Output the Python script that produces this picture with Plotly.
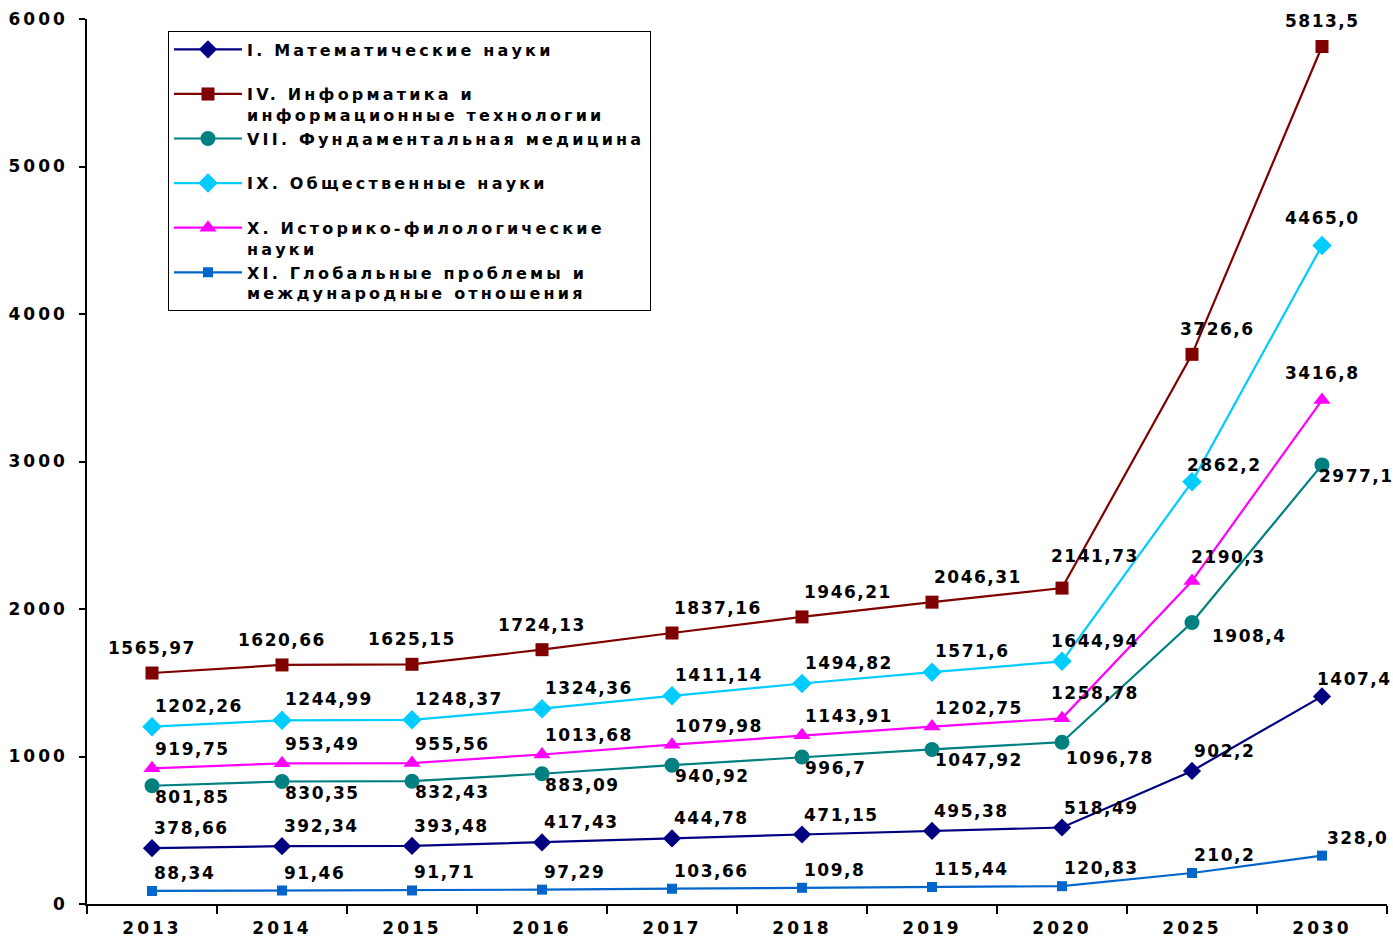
import plotly.graph_objects as go

years = ["2013", "2014", "2015", "2016", "2017", "2018", "2019", "2020", "2025", "2030"]
y_ticks = [0, 1000, 2000, 3000, 4000, 5000, 6000]

math_sci = [378.66, 392.34, 393.48, 417.43, 444.78, 471.15, 495.38, 518.49, 902.2, 1407.4]
informatics = [1565.97, 1620.66, 1625.15, 1724.13, 1837.16, 1946.21, 2046.31, 2141.73, 3726.6, 5813.5]
medicine = [801.85, 830.35, 832.43, 883.09, 940.92, 996.7, 1047.92, 1096.78, 1908.4, 2977.1]
social = [1202.26, 1244.99, 1248.37, 1324.36, 1411.14, 1494.82, 1571.6, 1644.94, 2862.2, 4465.0]
hist_phil = [919.75, 953.49, 955.56, 1013.68, 1079.98, 1143.91, 1202.75, 1258.78, 2190.3, 3416.8]
global_rel = [88.34, 91.46, 91.71, 97.29, 103.66, 109.8, 115.44, 120.83, 210.2, 328.0]

names = [
    "I. Математические науки",
    "IV. Информатика и<br>информационные технологии",
    "VII. Фундаментальная медицина",
    "IX. Общественные науки",
    "X. Историко-филологические<br>науки",
    "XI. Глобальные проблемы и<br>международные отношения",
]

FONT = "DejaVu Sans"


def spaced(txt, px):
    lines = txt.split("<br>")
    return "<br>".join('<span style="letter-spacing:%spx">%s</span>' % (px, ln) for ln in lines)


series = [
    dict(vals=math_sci, color="#000080", symbol="diamond", size=14),
    dict(vals=informatics, color="#800000", symbol="square", size=13),
    dict(vals=medicine, color="#008080", symbol="circle", size=15),
    dict(vals=social, color="#00CCFF", symbol="diamond", size=15),
    dict(vals=hist_phil, color="#FF00FF", symbol="triangle-up", size=15),
    dict(vals=global_rel, color="#0066CC", symbol="square", size=10),
]

# label placement: (xanchor, xshift, yshift) defaults and per-point overrides
label_default = [
    ("left", 0, 20),
    ("left", 0, 25),
    ("left", 1, -11),
    ("left", 1, 21),
    ("left", 1, 19),
    ("left", 0, 18),
]
label_override = {
    (1, 0): ("center", 0, 25), (1, 1): ("center", 0, 25), (1, 2): ("center", 0, 25),
    (1, 3): ("center", 0, 25), (1, 7): ("left", -13, 32), (1, 8): ("left", -14, 25),
    (1, 9): ("center", 0, 26),
    (2, 7): ("left", 2, -16), (2, 8): ("left", 18, -13), (2, 9): ("left", -5, -11),
    (3, 7): ("left", -13, 20), (3, 8): ("left", -7, 17), (3, 9): ("center", 0, 27),
    (4, 7): ("left", -13, 25), (4, 8): ("left", -3, 24), (4, 9): ("center", 0, 27),
    (0, 9): ("left", -7, 17),
    (5, 9): ("left", 3, 18),
}

fig = go.Figure()
annotations = []
for i, (s, nm) in enumerate(zip(series, names)):
    legend_name = spaced(nm, 3.2)
    if "<br>" not in nm:
        legend_name += "<br> "
    fig.add_trace(go.Scatter(
        x=years, y=s["vals"], name=legend_name, mode="lines+markers",
        line=dict(color=s["color"], width=2.2),
        marker=dict(symbol=s["symbol"], size=s["size"], color=s["color"]),
    ))
    for j, v in enumerate(s["vals"]):
        xa, xs, ys = label_override.get((i, j), label_default[i])
        annotations.append(dict(
            x=j, y=v, xref="x", yref="y", text=spaced(str(v).replace(".", ","), 1.5),
            showarrow=False, xanchor=xa, yanchor="middle", xshift=xs, yshift=ys,
            font=dict(family=FONT, size=17, color="black", weight="bold"),
        ))

fig.update_layout(
    width=1393, height=939,
    margin=dict(l=87, r=6, t=19, b=35),
    paper_bgcolor="white", plot_bgcolor="white",
    showlegend=True,
    legend=dict(
        x=0.0623, y=0.986, xanchor="left", yanchor="top",
        bordercolor="black", borderwidth=1, bgcolor="white",
        font=dict(family=FONT, size=16, color="black", weight="bold"),
        valign="top", itemwidth=68, tracegroupgap=0,
    ),
    annotations=annotations,
    xaxis=dict(
        type="category", range=[-0.5, 9.5], showgrid=False, zeroline=False,
        showline=True, linecolor="black", linewidth=1.5, automargin=False,
        tickmode="array", tickvals=years, ticktext=[spaced(y, 3) for y in years],
        ticks="outside", tickson="boundaries", ticklen=8, tickcolor="black", tickwidth=1.5,
        ticklabelstandoff=8,
        tickfont=dict(family=FONT, size=17, color="black", weight="bold"),
    ),
    yaxis=dict(
        range=[0, 6000], tickmode="array", tickvals=y_ticks,
        ticktext=[spaced(str(t), 3) for t in y_ticks],
        showgrid=False, zeroline=False, automargin=False,
        showline=True, linecolor="black", linewidth=1.5,
        ticks="outside", ticklen=6, tickcolor="black", tickwidth=1.5,
        ticklabelstandoff=8,
        tickfont=dict(family=FONT, size=17, color="black", weight="bold"),
    ),
)

fig.write_html("out.html")
